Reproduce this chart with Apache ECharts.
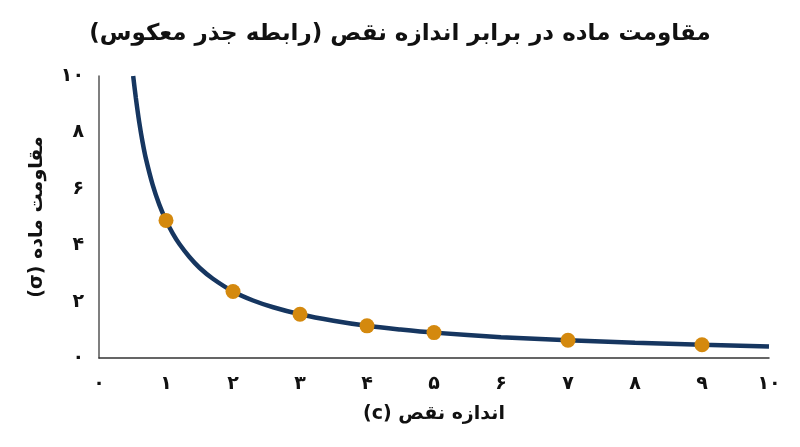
<!DOCTYPE html>
<html lang="fa" dir="rtl" style="height: 100%">
<head>
  <meta charset="utf-8">
</head>
<body style="height: 100%; margin: 0; background: #fff">
  <div id="container" style="width: 800px; height: 447px"></div>

  <script type="text/javascript" src="https://cdn.jsdelivr.net/npm/echarts@6.0.0/dist/echarts.min.js"></script>
  <script type="text/javascript">
    // داده‌ها (خوانده شده از تصویر)
    var curveC = [0.51, 0.55, 0.6, 0.65, 0.7, 0.8, 0.9, 1, 1.1, 1.2, 1.35, 1.5, 1.7, 2, 2.3, 2.6, 3, 3.5, 4, 4.5, 5, 6, 7, 8, 9, 10];
    var curveSigma = [10, 9.22, 8.37, 7.66, 7.07, 6.15, 5.44, 4.88, 4.42, 4.04, 3.58, 3.2, 2.81, 2.36, 2.04, 1.8, 1.55, 1.32, 1.14, 1.01, 0.9, 0.74, 0.63, 0.54, 0.47, 0.41];
    var sampleC = [1, 2, 3, 4, 5, 7, 9];
    var sampleSigma = [4.88, 2.36, 1.55, 1.14, 0.9, 0.63, 0.47];
    var xTickLabels = ['۰', '۱', '۲', '۳', '۴', '۵', '۶', '۷', '۸', '۹', '۱۰'];
    var yTickLabels = ['۰', '', '۲', '', '۴', '', '۶', '', '۸', '', '۱۰'];

    var font = 'DejaVu Sans';
    var dom = document.getElementById('container');
    var myChart = echarts.init(dom, null, { renderer: 'canvas' });

    function zip(xs, ys) {
      return xs.map(function (x, i) { return [x, ys[i]]; });
    }

    var option = {
      backgroundColor: '#fff',
      animation: false,
      title: {
        text: 'مقاومت ماده در برابر اندازه نقص (رابطه جذر معکوس)',
        left: 'center',
        top: 18,
        textStyle: { fontFamily: font, fontSize: 23, fontWeight: 'bold', color: '#111' }
      },
      grid: { left: 99, right: 31, top: 76, bottom: 89 },
      xAxis: {
        type: 'value',
        min: 0,
        max: 10,
        interval: 1,
        name: 'اندازه نقص (c)',
        nameLocation: 'middle',
        nameGap: 47,
        nameTextStyle: { fontFamily: font, fontSize: 19, fontWeight: 'bold', color: '#111' },
        axisLine: { show: true, lineStyle: { color: '#333', width: 1.5 } },
        axisTick: { show: false },
        splitLine: { show: false },
        axisLabel: {
          margin: 17,
          fontFamily: font,
          fontSize: 19,
          fontWeight: 'bold',
          color: '#111',
          formatter: function (v) { return xTickLabels[Math.round(v)]; }
        }
      },
      yAxis: {
        type: 'value',
        min: 0,
        max: 10,
        interval: 1,
        name: 'مقاومت ماده (σ)',
        nameLocation: 'middle',
        nameGap: 52,
        nameRotate: 90,
        nameTextStyle: { fontFamily: font, fontSize: 19, fontWeight: 'bold', color: '#111' },
        axisLine: { show: true, lineStyle: { color: '#555', width: 1.5 } },
        axisTick: { show: false },
        splitLine: { show: false },
        axisLabel: {
          margin: 15,
          fontFamily: font,
          fontSize: 19,
          fontWeight: 'bold',
          color: '#111',
          formatter: function (v) { return yTickLabels[Math.round(v)]; }
        }
      },
      series: [
        {
          type: 'line',
          data: zip(curveC, curveSigma),
          smooth: 0.3,
          showSymbol: false,
          symbol: 'none',
          lineStyle: { color: '#163660', width: 4.5 },
          z: 2
        },
        {
          type: 'scatter',
          data: zip(sampleC, sampleSigma),
          symbolSize: 15,
          itemStyle: { color: '#D4890E', opacity: 1 },
          z: 3
        }
      ]
    };

    myChart.setOption(option);
    window.addEventListener('resize', myChart.resize);
  </script>
</body>
</html>
